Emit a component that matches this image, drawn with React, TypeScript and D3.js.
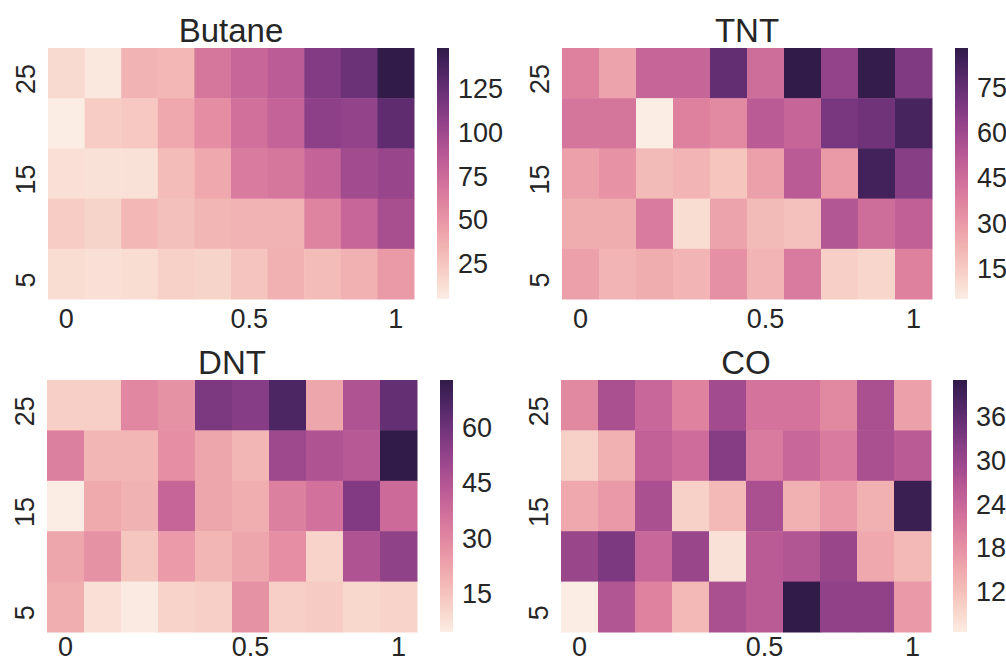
import React from "react";
import * as d3 from "d3";

// rows go top -> bottom, columns left -> right
const rowValues = [25, 20, 15, 10, 5];
const colIndex = d3.range(10);
const xTickCols = [0, 5, 9];
const xTickLabels = ["0", "0.5", "1"];
const yTickRows = [25, 15, 5];

const butane = [
  [15, 8, 35, 32, 68, 78, 85, 112, 122, 148],
  [5, 22, 24, 40, 55, 72, 80, 108, 105, 128],
  [12, 11, 11, 30, 40, 65, 68, 80, 98, 103],
  [22, 18, 32, 28, 33, 35, 35, 60, 78, 95],
  [13, 12, 13, 20, 18, 26, 36, 30, 36, 48],
];
const tnt = [
  [38, 27, 48, 48, 75, 45, 88, 63, 87, 68],
  [42, 42, 5, 38, 35, 52, 48, 70, 72, 82],
  [28, 32, 20, 22, 17, 28, 52, 30, 83, 66],
  [24, 24, 40, 10, 27, 20, 18, 54, 45, 50],
  [28, 22, 24, 22, 33, 22, 40, 14, 12, 38],
];
const dnt = [
  [12, 12, 30, 27, 57, 55, 67, 22, 46, 62],
  [32, 18, 18, 28, 22, 18, 50, 46, 44, 73],
  [4.5, 21, 19, 40, 22, 20, 32, 36, 56, 38],
  [22, 27, 14, 25, 18, 22, 28, 11, 46, 53],
  [20, 8, 5, 11, 12, 27, 12, 13, 10, 11],
];
const co = [
  [19, 28, 24, 20, 29, 22, 22, 19, 28, 16],
  [10, 14, 25, 23, 32, 21, 24, 21, 28, 26],
  [15, 17, 28, 10, 13, 28, 14, 17, 14, 40],
  [30, 33, 24, 30, 8, 26, 27, 30, 15, 13],
  [6.5, 27, 20, 13, 28, 26, 41, 31, 31, 17],
];

const butaneTicks = [25, 50, 75, 100, 125];
const tntTicks = [15, 30, 45, 60, 75];
const dntTicks = [15, 30, 45, 60];
const coTicks = [12, 18, 24, 30, 36];

// seaborn-style cubehelix map, pushed a bit more saturated to match the picture
const LIGHT = 0.94;
const DARK = 0.15;
function cubehelix(x: number) {
  const hue = 1.15, start = 0, rot = 0.4;
  const a = (hue * x * (1 - x)) / 2;
  const phi = 2 * Math.PI * (start / 3 + rot * x);
  const ch = (p0: number, p1: number) =>
    Math.min(1, Math.max(0, x + a * (p0 * Math.cos(phi) + p1 * Math.sin(phi)))) * 255;
  return d3.rgb(ch(-0.14861, 1.78277), ch(-0.29227, -0.90649), ch(1.97294, 0)).formatHex();
}
const interp = (t: number) => cubehelix(LIGHT + (DARK - LIGHT) * t);

const FONT = "'Liberation Sans', Arial, sans-serif";
const TICK_SIZE = 27;

type PanelProps = {
  id: string;
  title: string;
  values: number[][];
  ticks: number[];
  x0: number; x1: number; y0: number; y1: number;
  cb0: number; cb1: number;
  xTickDy: number;
};

const Panel = ({ id, title, values, ticks, x0, x1, y0, y1, cb0, cb1, xTickDy }: PanelProps) => {
  const flat = values.flat();
  const [vmin, vmax] = d3.extent(flat) as [number, number];
  const color = d3.scaleSequential(interp).domain([vmin, vmax]);
  const x = d3.scaleBand<number>().domain(colIndex).range([x0, x1]);
  const y = d3.scaleBand<number>().domain(rowValues).range([y0, y1]);
  const cbY = d3.scaleLinear().domain([vmin, vmax]).range([y1, y0]);
  const stops = d3.range(0, 1.0001, 0.02);

  return (
    <g>
      <defs>
        <linearGradient id={`grad-${id}`} x1="0" y1="1" x2="0" y2="0">
          {stops.map((s) => (
            <stop key={s} offset={s} stopColor={interp(s)} />
          ))}
        </linearGradient>
      </defs>
      {values.map((row, ri) =>
        row.map((v, ci) => (
          <rect
            key={`${ri}-${ci}`}
            x={x(ci)}
            y={y(rowValues[ri])}
            width={x.bandwidth() + 0.5}
            height={y.bandwidth() + 0.5}
            fill={color(v)}
          />
        ))
      )}
      <text x={(x0 + x1) / 2} y={y0 - 6} textAnchor="middle" fontSize={33} fill="#262626" fontFamily={FONT}>
        {title}
      </text>
      {xTickCols.map((c, i) => (
        <text
          key={c}
          x={x(c)! + x.bandwidth() / 2}
          y={y1 + xTickDy}
          textAnchor="middle"
          fontSize={TICK_SIZE}
          fill="#262626"
          fontFamily={FONT}
        >
          {xTickLabels[i]}
        </text>
      ))}
      {yTickRows.map((r) => {
        const cy = y(r)! + y.bandwidth() / 2 + 6;
        const tx = x0 - 13;
        return (
          <text
            key={r}
            transform={`translate(${tx},${cy}) rotate(-90)`}
            textAnchor="middle"
            fontSize={TICK_SIZE}
            fill="#262626"
            fontFamily={FONT}
          >
            {r}
          </text>
        );
      })}
      <rect x={cb0} y={y0} width={cb1 - cb0} height={y1 - y0} fill={`url(#grad-${id})`} />
      {ticks.map((t) => (
        <text
          key={t}
          x={cb1 + 9}
          y={cbY(t)}
          dy="0.35em"
          fontSize={TICK_SIZE}
          fill="#262626"
          fontFamily={FONT}
        >
          {t}
        </text>
      ))}
    </g>
  );
};

export default function App() {
  return (
    <div style={{ position: "absolute", left: 0, top: 0 }}>
      <svg width={1006} height={662} style={{ display: "block", background: "#fff" }}>
        <Panel id="butane" title="Butane" values={butane} ticks={butaneTicks}
          x0={48} x1={414} y0={48} y1={299} cb0={437} cb1={449} xTickDy={29} />
        <Panel id="tnt" title="TNT" values={tnt} ticks={tntTicks}
          x0={562} x1={932} y0={48} y1={299} cb0={955} cb1={968} xTickDy={29} />
        <Panel id="dnt" title="DNT" values={dnt} ticks={dntTicks}
          x0={47} x1={417} y0={380} y1={632} cb0={440} cb1={453} xTickDy={24} />
        <Panel id="co" title="CO" values={co} ticks={coTicks}
          x0={561} x1={931} y0={380} y1={632} cb0={953} cb1={967} xTickDy={24} />
      </svg>
    </div>
  );
}
